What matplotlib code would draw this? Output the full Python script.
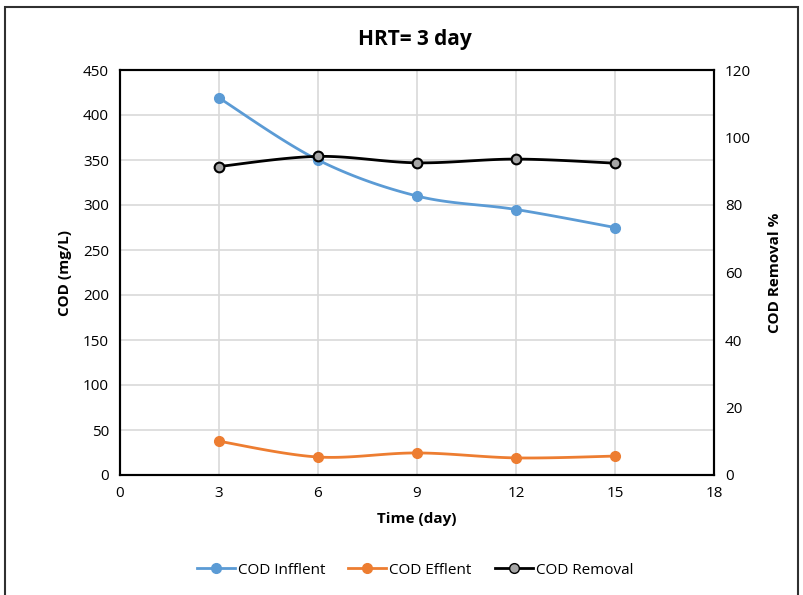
import numpy as np
import matplotlib.pyplot as plt
from matplotlib.patches import Rectangle

plt.rcParams['font.family'] = ['Open Sans', 'DejaVu Sans']

days = [3, 6, 9, 12, 15]
cod_influent = [419, 350, 310, 295, 275]
cod_effluent = [37.5, 20, 24.5, 19, 21]
cod_removal = [91.4, 94.4, 92.5, 93.6, 92.4]

blue = '#5b9bd5'
orange = '#ed7d31'


def smooth(x, y, n=30):
    # excel style smoothed line (cardinal spline through the points)
    x = np.asarray(x, float)
    y = np.asarray(y, float)
    px = np.concatenate([[x[0]], x, [x[-1]]])
    py = np.concatenate([[y[0]], y, [y[-1]]])
    xs, ys = [], []
    t = np.linspace(0, 1, n)
    for i in range(1, len(px) - 2):
        p0 = np.array([px[i], py[i]])
        p3 = np.array([px[i + 1], py[i + 1]])
        c1 = p0 + (np.array([px[i + 1], py[i + 1]]) - np.array([px[i - 1], py[i - 1]])) / 6
        c2 = p3 - (np.array([px[i + 2], py[i + 2]]) - np.array([px[i], py[i]])) / 6
        b = ((1 - t) ** 3)[:, None] * p0 + (3 * (1 - t) ** 2 * t)[:, None] * c1 \
            + (3 * (1 - t) * t ** 2)[:, None] * c2 + (t ** 3)[:, None] * p3
        xs.extend(b[:, 0])
        ys.extend(b[:, 1])
    return xs, ys


fig = plt.figure(figsize=(8.04, 5.95), dpi=100)
ax = fig.add_axes([120 / 804, 120 / 595, 594 / 804, 405 / 595])
ax2 = ax.twinx()

for yv, c in [(cod_influent, blue), (cod_effluent, orange)]:
    sx, sy = smooth(days, yv)
    ax.plot(sx, sy, color=c, lw=2, zorder=3)
    ax.plot(days, yv, 'o', color=c, ms=7, zorder=4)

sx, sy = smooth(days, cod_removal)
ax2.plot(sx, sy, color='black', lw=2, zorder=3)
ax2.plot(days, cod_removal, 'o', mfc='#a5a5a5', mec='black', mew=1.5, ms=7, zorder=4)

ax.set_xlim(0, 18)
ax.set_ylim(0, 450)
ax2.set_ylim(0, 120)
ax.set_xticks(range(0, 19, 3))
ax.set_yticks(range(0, 451, 50))
ax2.set_yticks(range(0, 121, 20))
ax.grid(True, color='#d9d9d9', lw=1.2)
ax.set_axisbelow(True)
for a in (ax, ax2):
    a.tick_params(length=0, labelsize=11, pad=8, colors='#404040', labelcolor='black')
    for s in a.spines.values():
        s.set_color('black')
        s.set_linewidth(1.5)

ax.set_xlabel('Time (day)', fontsize=11, fontweight='bold', labelpad=8)
ax.set_ylabel('COD (mg/L)', fontsize=11, fontweight='bold', labelpad=8)
ax2.set_ylabel('COD Removal %', fontsize=11, fontweight='bold', labelpad=12)
fig.text(415 / 804, 1 - 40 / 595, 'HRT= 3 day', ha='center', va='center',
         fontsize=15, fontweight='bold')

h = [plt.Line2D([], [], color=blue, lw=2, marker='o', ms=7),
     plt.Line2D([], [], color=orange, lw=2, marker='o', ms=7),
     plt.Line2D([], [], color='black', lw=2, marker='o', mfc='#a5a5a5', mec='black', ms=7)]
fig.legend(h, ['COD Infflent', 'COD Efflent', 'COD Removal'], loc='center',
           bbox_to_anchor=(415 / 804, 1 - 570 / 595), ncol=3, frameon=False,
           fontsize=11, handlelength=2.5, handletextpad=0.2, columnspacing=1.5)

fig.patches.append(Rectangle((5 / 804, -0.05), 793 / 804, 1 - 7 / 595 + 0.05,
                             transform=fig.transFigure, fill=False,
                             edgecolor='#303030', lw=1.5))

fig.savefig('out.png', dpi=100)
